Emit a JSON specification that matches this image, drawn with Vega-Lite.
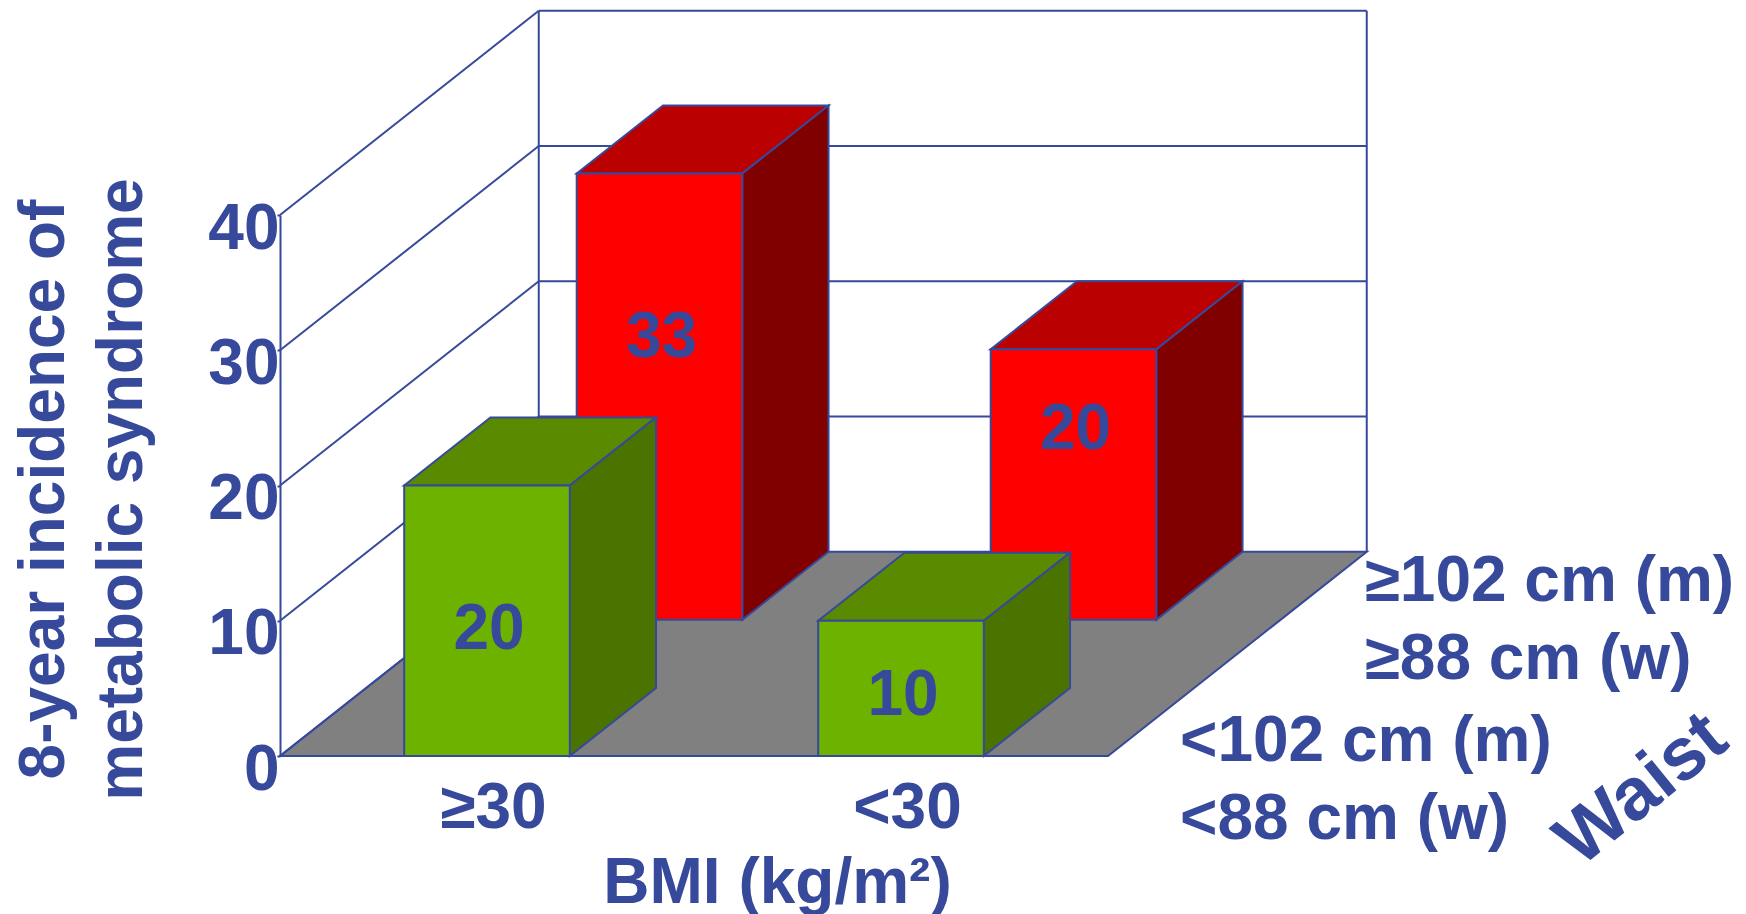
{
  "$schema": "https://vega.github.io/schema/vega-lite/v6.json",
  "width": 828,
  "height": 541,
  "autosize": "none",
  "padding": {"left": 280, "top": 215, "right": 638, "bottom": 158},
  "background": "white",
  "config": {
    "view": {"stroke": null},
    "text": {"font": "Liberation Sans", "fontWeight": "bold", "color": "#36499b"},
    "axis": {
      "labelFont": "Liberation Sans", "labelFontWeight": "bold", "labelColor": "#36499b",
      "titleFont": "Liberation Sans", "titleFontWeight": "bold", "titleColor": "#36499b",
      "grid": false
    }
  },
  "datasets": {
    "bars": [
      {"bmi": "≥30", "waist": "high", "value": 33},
      {"bmi": "<30", "waist": "high", "value": 20},
      {"bmi": "≥30", "waist": "low", "value": 20},
      {"bmi": "<30", "waist": "low", "value": 10}
    ],
    "ticks": [{"tick": 0}, {"tick": 10}, {"tick": 20}, {"tick": 30}, {"tick": 40}],
    "waistLabels": [
      {"waist": "high", "label": "≥102 cm (m)\n≥88 cm (w)"},
      {"waist": "low", "label": "<102 cm (m)\n<88 cm (w)"}
    ]
  },
  "data": {"name": "bars"},
  "transform": [
    {"calculate": "datum.bmi === '<30' ? 1 : 0", "as": "col"},
    {"calculate": "datum.col + 0.3", "as": "x0"},
    {"calculate": "datum.col + 0.7", "as": "x1"},
    {"calculate": "datum.waist === 'high' ? 2 / 3 : 0", "as": "d0"},
    {"calculate": "15.1 * datum.d0", "as": "base"},
    {"calculate": "datum.base + datum.value", "as": "top"},
    {"calculate": "datum.x0 + 0.625 * datum.d0", "as": "fx0"},
    {"calculate": "datum.x1 + 0.625 * datum.d0", "as": "fx1"},
    {"calculate": "(datum.fx0 + datum.fx1) / 2 + 0.005", "as": "lx"},
    {"calculate": "datum.waist === 'high' ? datum.base + 0.523 * datum.value + 3.6 : 0.49 * datum.value - 0.5", "as": "ly"}
  ],
  "layer": [
    {
      "data": {"name": "ticks"},
      "transform": [{"filter": "datum.tick === 0"}],
      "mark": {"type": "rule", "opacity": 0},
      "encoding": {
        "x": {
          "datum": 0.5, "type": "quantitative",
          "scale": {"domain": [0, 2], "nice": false, "zero": false},
          "axis": {
            "values": [0.5, 1.5],
            "labelExpr": "datum.value < 1 ? '≥30' : '<30'",
            "labelFontSize": 64, "labelPadding": 20, "labelOffset": 6, "labelFlush": false, "labelOverlap": false, "labelBound": false,
            "ticks": false, "domain": false,
            "title": "BMI (kg/m²)", "titleFontSize": 64, "titleX": 497, "titleY": 146, "titleBaseline": "alphabetic", "titleAlign": "center"
          }
        },
        "y": {
          "field": "tick", "type": "quantitative",
          "scale": {"domain": [0, 40], "nice": false, "zero": false},
          "axis": {
            "values": [0, 10, 20, 30, 40],
            "labelFontSize": 64, "labelPadding": -2, "labelOffset": 14, "labelBound": false, "labelFlush": false, "labelOverlap": false,
            "tickSize": 3, "tickColor": "#36499b", "tickWidth": 2,
            "domainColor": "#36499b", "domainWidth": 2,
            "title": ["8-year incidence of", "metabolic syndrome"],
            "titleFontSize": 64, "titleLineHeight": 78, "titleX": -217, "titleY": 274, "titleBaseline": "alphabetic", "titleAlign": "center", "titleAngle": -90
          }
        }
      }
    },
    {
      "data": {"name": "ticks"},
      "transform": [
        {"filter": "datum.tick === 0"},
        {"calculate": "[0, 1]", "as": "t"},
        {"flatten": ["t"]},
        {"calculate": "15.1 * datum.t", "as": "py"},
        {"calculate": "0.625 * datum.t", "as": "pa"},
        {"calculate": "2 + 0.625 * datum.t", "as": "pb"}
      ],
      "mark": {"type": "area", "orient": "horizontal", "fill": "#808080", "stroke": "#36499b", "strokeWidth": 2},
      "encoding": {
        "y": {"field": "py", "type": "quantitative", "stack": null},
        "x": {"field": "pa", "type": "quantitative"},
        "x2": {"field": "pb"}
      }
    },
    {
      "data": {"name": "ticks"},
      "transform": [
        {"filter": "datum.tick > 0"},
        {"calculate": "datum.tick + 15.1", "as": "by"}
      ],
      "mark": {"type": "rule", "color": "#36499b", "strokeWidth": 2},
      "encoding": {
        "x": {"datum": 0.625, "type": "quantitative"},
        "x2": {"datum": 2.625},
        "y": {"field": "by", "type": "quantitative"}
      }
    },
    {
      "data": {"name": "ticks"},
      "transform": [
        {"calculate": "datum.tick + 15.1", "as": "by"}
      ],
      "mark": {"type": "rule", "color": "#36499b", "strokeWidth": 2},
      "encoding": {
        "x": {"datum": 0, "type": "quantitative"},
        "x2": {"datum": 0.625},
        "y": {"field": "tick", "type": "quantitative"},
        "y2": {"field": "by"}
      }
    },
    {
      "data": {"name": "ticks"},
      "transform": [{"filter": "datum.tick === 40"}],
      "mark": {"type": "rule", "color": "#36499b", "strokeWidth": 2},
      "encoding": {
        "x": {"datum": 0.625, "type": "quantitative"},
        "y": {"datum": 15.1, "type": "quantitative"},
        "y2": {"datum": 55.1}
      }
    },
    {
      "data": {"name": "ticks"},
      "transform": [{"filter": "datum.tick === 40"}],
      "mark": {"type": "rule", "color": "#36499b", "strokeWidth": 2},
      "encoding": {
        "x": {"datum": 2.625, "type": "quantitative"},
        "y": {"datum": 15.1, "type": "quantitative"},
        "y2": {"datum": 55.1}
      }
    },
    {
      "transform": [
        {"filter": "datum.waist === 'high'"},
        {"calculate": "[0, 1]", "as": "t"},
        {"flatten": ["t"]},
        {"calculate": "datum.d0 + datum.t / 3", "as": "d"},
        {"calculate": "datum.value + 15.1 * datum.d", "as": "py"},
        {"calculate": "datum.x0 + 0.625 * datum.d", "as": "pa"},
        {"calculate": "datum.x1 + 0.625 * datum.d", "as": "pb"}
      ],
      "mark": {"type": "area", "orient": "horizontal", "fill": "#bb0000", "stroke": "#36499b", "strokeWidth": 2},
      "encoding": {
        "y": {"field": "py", "type": "quantitative", "stack": null},
        "x": {"field": "pa", "type": "quantitative"},
        "x2": {"field": "pb"},
        "detail": {"field": "bmi"}
      }
    },
    {
      "transform": [
        {"filter": "datum.waist === 'high'"},
        {"calculate": "[0, 1]", "as": "t"},
        {"flatten": ["t"]},
        {"calculate": "datum.d0 + datum.t / 3", "as": "d"},
        {"calculate": "datum.x1 + 0.625 * datum.d", "as": "px"},
        {"calculate": "15.1 * datum.d", "as": "pa"},
        {"calculate": "datum.value + 15.1 * datum.d", "as": "pb"}
      ],
      "mark": {"type": "area", "fill": "#800000", "stroke": "#36499b", "strokeWidth": 2},
      "encoding": {
        "x": {"field": "px", "type": "quantitative"},
        "y": {"field": "pa", "type": "quantitative", "stack": null},
        "y2": {"field": "pb"},
        "detail": {"field": "bmi"}
      }
    },
    {
      "transform": [{"filter": "datum.waist === 'high'"}],
      "mark": {"type": "rect", "fill": "#ff0000", "stroke": "#36499b", "strokeWidth": 2},
      "encoding": {
        "x": {"field": "fx0", "type": "quantitative"},
        "x2": {"field": "fx1"},
        "y": {"field": "base", "type": "quantitative"},
        "y2": {"field": "top"}
      }
    },
    {
      "transform": [{"filter": "datum.waist === 'high'"}],
      "mark": {"type": "text", "fontSize": 64, "baseline": "middle", "align": "center"},
      "encoding": {
        "x": {"field": "lx", "type": "quantitative"},
        "y": {"field": "ly", "type": "quantitative"},
        "text": {"field": "value", "type": "quantitative"}
      }
    },
    {
      "transform": [
        {"filter": "datum.waist === 'low'"},
        {"calculate": "[0, 1]", "as": "t"},
        {"flatten": ["t"]},
        {"calculate": "datum.d0 + datum.t / 3", "as": "d"},
        {"calculate": "datum.value + 15.1 * datum.d", "as": "py"},
        {"calculate": "datum.x0 + 0.625 * datum.d", "as": "pa"},
        {"calculate": "datum.x1 + 0.625 * datum.d", "as": "pb"}
      ],
      "mark": {"type": "area", "orient": "horizontal", "fill": "#5a8a00", "stroke": "#36499b", "strokeWidth": 2},
      "encoding": {
        "y": {"field": "py", "type": "quantitative", "stack": null},
        "x": {"field": "pa", "type": "quantitative"},
        "x2": {"field": "pb"},
        "detail": {"field": "bmi"}
      }
    },
    {
      "transform": [
        {"filter": "datum.waist === 'low'"},
        {"calculate": "[0, 1]", "as": "t"},
        {"flatten": ["t"]},
        {"calculate": "datum.d0 + datum.t / 3", "as": "d"},
        {"calculate": "datum.x1 + 0.625 * datum.d", "as": "px"},
        {"calculate": "15.1 * datum.d", "as": "pa"},
        {"calculate": "datum.value + 15.1 * datum.d", "as": "pb"}
      ],
      "mark": {"type": "area", "fill": "#4a7300", "stroke": "#36499b", "strokeWidth": 2},
      "encoding": {
        "x": {"field": "px", "type": "quantitative"},
        "y": {"field": "pa", "type": "quantitative", "stack": null},
        "y2": {"field": "pb"},
        "detail": {"field": "bmi"}
      }
    },
    {
      "transform": [{"filter": "datum.waist === 'low'"}],
      "mark": {"type": "rect", "fill": "#6eb200", "stroke": "#36499b", "strokeWidth": 2},
      "encoding": {
        "x": {"field": "fx0", "type": "quantitative"},
        "x2": {"field": "fx1"},
        "y": {"field": "base", "type": "quantitative"},
        "y2": {"field": "top"}
      }
    },
    {
      "transform": [{"filter": "datum.waist === 'low'"}],
      "mark": {"type": "text", "fontSize": 64, "baseline": "middle", "align": "center"},
      "encoding": {
        "x": {"field": "lx", "type": "quantitative"},
        "y": {"field": "ly", "type": "quantitative"},
        "text": {"field": "value", "type": "quantitative"}
      }
    },
    {
      "data": {"name": "waistLabels"},
      "transform": [
        {"calculate": "datum.waist === 'high' ? 2.62 : 2.174", "as": "lx"},
        {"calculate": "datum.waist === 'high' ? 12.9 : 1.0", "as": "ly"}
      ],
      "mark": {"type": "text", "fontSize": 64, "align": "left", "baseline": "middle", "lineBreak": "\n", "lineHeight": 78},
      "encoding": {
        "x": {"field": "lx", "type": "quantitative"},
        "y": {"field": "ly", "type": "quantitative"},
        "text": {"field": "label"}
      }
    },
    {
      "data": {"values": [{"label": "Waist"}]},
      "mark": {"type": "text", "fontSize": 74, "align": "center", "baseline": "middle", "angle": 321},
      "encoding": {
        "x": {"datum": 3.29, "type": "quantitative"},
        "y": {"datum": -2.5, "type": "quantitative"},
        "text": {"field": "label"}
      }
    }
  ]
}
